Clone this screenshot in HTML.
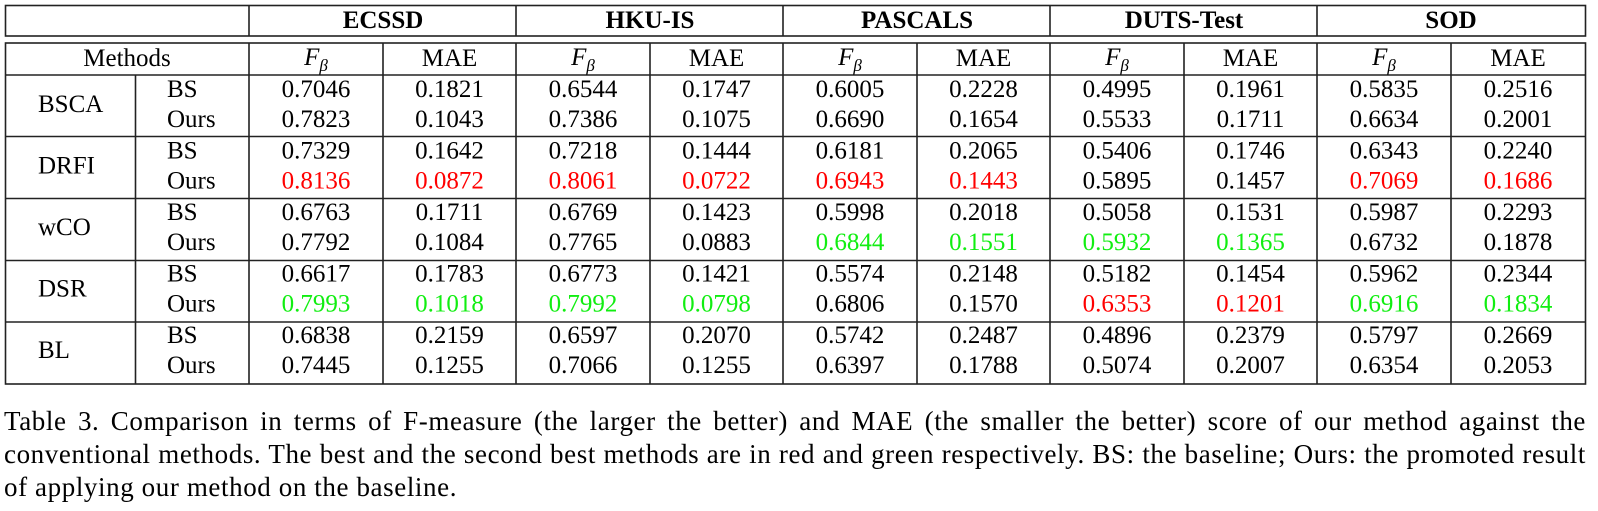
<!DOCTYPE html>
<html><head><meta charset="utf-8"><style>
html,body{margin:0;padding:0;background:#fff;width:1598px;height:511px;overflow:hidden;position:relative}
svg{position:absolute;left:0;top:0}
text{font-family:"Liberation Serif",serif;font-size:25px;fill:#000}
.r{fill:#ff0000}.g{fill:#11ee11}
.cap{position:absolute;left:4px;top:405px;width:1582px;font-family:"Liberation Serif",serif;font-size:27px;letter-spacing:0.6px;line-height:33px;text-align:justify;color:#000}
</style></head><body>
<svg width="1598" height="511">
<g stroke="#222" stroke-width="1.6" fill="none">
<rect x="5.5" y="5.5" width="1580" height="30.5"/>
<line x1="249" y1="5" x2="249" y2="36"/><line x1="516" y1="5" x2="516" y2="36"/><line x1="783" y1="5" x2="783" y2="36"/><line x1="1050" y1="5" x2="1050" y2="36"/><line x1="1317" y1="5" x2="1317" y2="36"/>
<rect x="5.5" y="43" width="1580" height="341"/>
<line x1="5" y1="75" x2="1586" y2="75"/><line x1="5" y1="136.5" x2="1586" y2="136.5"/><line x1="5" y1="198.5" x2="1586" y2="198.5"/><line x1="5" y1="260.5" x2="1586" y2="260.5"/><line x1="5" y1="322" x2="1586" y2="322"/>
<line x1="135.5" y1="75" x2="135.5" y2="384"/>
<line x1="249" y1="43" x2="249" y2="384"/><line x1="383" y1="43" x2="383" y2="384"/><line x1="516" y1="43" x2="516" y2="384"/><line x1="650" y1="43" x2="650" y2="384"/><line x1="783" y1="43" x2="783" y2="384"/><line x1="917" y1="43" x2="917" y2="384"/><line x1="1050" y1="43" x2="1050" y2="384"/><line x1="1184" y1="43" x2="1184" y2="384"/><line x1="1317" y1="43" x2="1317" y2="384"/><line x1="1451" y1="43" x2="1451" y2="384"/>
</g>
<g font-weight="bold" text-anchor="middle">
<text x="383" y="28" font-weight="bold">ECSSD</text><text x="650" y="28" font-weight="bold">HKU-IS</text><text x="917" y="28" font-weight="bold">PASCALS</text><text x="1184" y="28" font-weight="bold">DUTS-Test</text><text x="1451" y="28" font-weight="bold">SOD</text>
</g>
<text x="127" y="66" text-anchor="middle">Methods</text>
<g text-anchor="middle">
<text x="316" y="65"><tspan font-style="italic">F</tspan><tspan font-style="italic" font-size="17" dy="6">β</tspan></text><text x="449.5" y="66">MAE</text>
<text x="583" y="65"><tspan font-style="italic">F</tspan><tspan font-style="italic" font-size="17" dy="6">β</tspan></text><text x="716.5" y="66">MAE</text>
<text x="850" y="65"><tspan font-style="italic">F</tspan><tspan font-style="italic" font-size="17" dy="6">β</tspan></text><text x="983.5" y="66">MAE</text>
<text x="1117" y="65"><tspan font-style="italic">F</tspan><tspan font-style="italic" font-size="17" dy="6">β</tspan></text><text x="1250.5" y="66">MAE</text>
<text x="1384" y="65"><tspan font-style="italic">F</tspan><tspan font-style="italic" font-size="17" dy="6">β</tspan></text><text x="1518" y="66">MAE</text>
</g>
<text x="38" y="112">BSCA</text><text x="38" y="173.5">DRFI</text><text x="38" y="235">wCO</text><text x="38" y="296.5">DSR</text><text x="38" y="358">BL</text>
<text x="167" y="97">BS</text><text x="167" y="127">Ours</text>
<text x="167" y="158.5">BS</text><text x="167" y="188.5">Ours</text>
<text x="167" y="220">BS</text><text x="167" y="250">Ours</text>
<text x="167" y="281.5">BS</text><text x="167" y="311.5">Ours</text>
<text x="167" y="343">BS</text><text x="167" y="373">Ours</text>
<g text-anchor="middle">
<text x="316" y="97">0.7046</text><text x="449.5" y="97">0.1821</text><text x="583" y="97">0.6544</text><text x="716.5" y="97">0.1747</text><text x="850" y="97">0.6005</text><text x="983.5" y="97">0.2228</text><text x="1117" y="97">0.4995</text><text x="1250.5" y="97">0.1961</text><text x="1384" y="97">0.5835</text><text x="1518" y="97">0.2516</text>
<text x="316" y="127">0.7823</text><text x="449.5" y="127">0.1043</text><text x="583" y="127">0.7386</text><text x="716.5" y="127">0.1075</text><text x="850" y="127">0.6690</text><text x="983.5" y="127">0.1654</text><text x="1117" y="127">0.5533</text><text x="1250.5" y="127">0.1711</text><text x="1384" y="127">0.6634</text><text x="1518" y="127">0.2001</text>
<text x="316" y="158.5">0.7329</text><text x="449.5" y="158.5">0.1642</text><text x="583" y="158.5">0.7218</text><text x="716.5" y="158.5">0.1444</text><text x="850" y="158.5">0.6181</text><text x="983.5" y="158.5">0.2065</text><text x="1117" y="158.5">0.5406</text><text x="1250.5" y="158.5">0.1746</text><text x="1384" y="158.5">0.6343</text><text x="1518" y="158.5">0.2240</text>
<text x="316" y="188.5" class="r">0.8136</text><text x="449.5" y="188.5" class="r">0.0872</text><text x="583" y="188.5" class="r">0.8061</text><text x="716.5" y="188.5" class="r">0.0722</text><text x="850" y="188.5" class="r">0.6943</text><text x="983.5" y="188.5" class="r">0.1443</text><text x="1117" y="188.5">0.5895</text><text x="1250.5" y="188.5">0.1457</text><text x="1384" y="188.5" class="r">0.7069</text><text x="1518" y="188.5" class="r">0.1686</text>
<text x="316" y="220">0.6763</text><text x="449.5" y="220">0.1711</text><text x="583" y="220">0.6769</text><text x="716.5" y="220">0.1423</text><text x="850" y="220">0.5998</text><text x="983.5" y="220">0.2018</text><text x="1117" y="220">0.5058</text><text x="1250.5" y="220">0.1531</text><text x="1384" y="220">0.5987</text><text x="1518" y="220">0.2293</text>
<text x="316" y="250">0.7792</text><text x="449.5" y="250">0.1084</text><text x="583" y="250">0.7765</text><text x="716.5" y="250">0.0883</text><text x="850" y="250" class="g">0.6844</text><text x="983.5" y="250" class="g">0.1551</text><text x="1117" y="250" class="g">0.5932</text><text x="1250.5" y="250" class="g">0.1365</text><text x="1384" y="250">0.6732</text><text x="1518" y="250">0.1878</text>
<text x="316" y="281.5">0.6617</text><text x="449.5" y="281.5">0.1783</text><text x="583" y="281.5">0.6773</text><text x="716.5" y="281.5">0.1421</text><text x="850" y="281.5">0.5574</text><text x="983.5" y="281.5">0.2148</text><text x="1117" y="281.5">0.5182</text><text x="1250.5" y="281.5">0.1454</text><text x="1384" y="281.5">0.5962</text><text x="1518" y="281.5">0.2344</text>
<text x="316" y="311.5" class="g">0.7993</text><text x="449.5" y="311.5" class="g">0.1018</text><text x="583" y="311.5" class="g">0.7992</text><text x="716.5" y="311.5" class="g">0.0798</text><text x="850" y="311.5">0.6806</text><text x="983.5" y="311.5">0.1570</text><text x="1117" y="311.5" class="r">0.6353</text><text x="1250.5" y="311.5" class="r">0.1201</text><text x="1384" y="311.5" class="g">0.6916</text><text x="1518" y="311.5" class="g">0.1834</text>
<text x="316" y="343">0.6838</text><text x="449.5" y="343">0.2159</text><text x="583" y="343">0.6597</text><text x="716.5" y="343">0.2070</text><text x="850" y="343">0.5742</text><text x="983.5" y="343">0.2487</text><text x="1117" y="343">0.4896</text><text x="1250.5" y="343">0.2379</text><text x="1384" y="343">0.5797</text><text x="1518" y="343">0.2669</text>
<text x="316" y="373">0.7445</text><text x="449.5" y="373">0.1255</text><text x="583" y="373">0.7066</text><text x="716.5" y="373">0.1255</text><text x="850" y="373">0.6397</text><text x="983.5" y="373">0.1788</text><text x="1117" y="373">0.5074</text><text x="1250.5" y="373">0.2007</text><text x="1384" y="373">0.6354</text><text x="1518" y="373">0.2053</text>
</g>
</svg>
<div class="cap">Table 3. Comparison in terms of F-measure (the larger the better) and MAE (the smaller the better) score of our method against the conventional methods. The best and the second best methods are in red and green respectively. BS: the baseline; Ours: the promoted result of applying our method on the baseline.</div>
</body></html>
